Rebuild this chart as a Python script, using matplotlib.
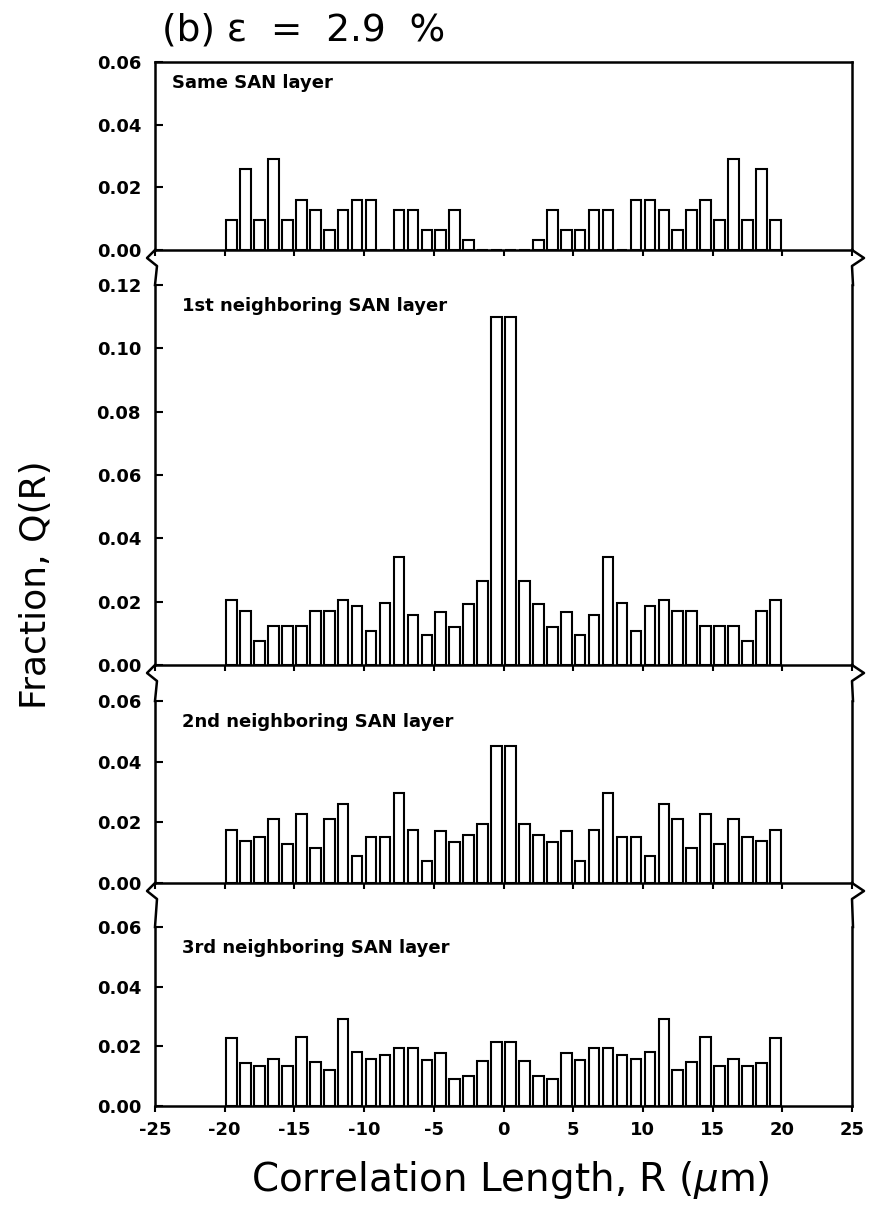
import numpy as np
import matplotlib
matplotlib.use("Agg")
import matplotlib.pyplot as plt
from matplotlib.lines import Line2D

W, H = 874, 1216

# bin centres (um)
R = np.arange(-19.5, 20.0, 1.0)

same_layer = [0.0097, 0.0258, 0.0097, 0.0290, 0.0097, 0.0161, 0.0129, 0.0065, 0.0129, 0.0161,
              0.0161, 0.0, 0.0129, 0.0129, 0.0065, 0.0065, 0.0129, 0.0032, 0.0, 0.0,
              0.0, 0.0, 0.0032, 0.0129, 0.0065, 0.0065, 0.0129, 0.0129, 0.0, 0.0161,
              0.0161, 0.0129, 0.0065, 0.0129, 0.0161, 0.0097, 0.0290, 0.0097, 0.0258, 0.0097]
first_nb = [0.0205, 0.0172, 0.0075, 0.0124, 0.0124, 0.0124, 0.0172, 0.0172, 0.0205, 0.0185,
            0.0108, 0.0195, 0.0340, 0.0157, 0.0094, 0.0168, 0.0121, 0.0193, 0.0264, 0.1100,
            0.1100, 0.0264, 0.0193, 0.0121, 0.0168, 0.0094, 0.0157, 0.0340, 0.0195, 0.0108,
            0.0185, 0.0205, 0.0172, 0.0172, 0.0124, 0.0124, 0.0124, 0.0075, 0.0172, 0.0205]
second_nb = [0.0174, 0.0138, 0.0151, 0.0212, 0.0128, 0.0226, 0.0116, 0.0212, 0.0261, 0.0089,
             0.0151, 0.0151, 0.0298, 0.0174, 0.0074, 0.0172, 0.0136, 0.0158, 0.0196, 0.0452,
             0.0452, 0.0196, 0.0158, 0.0136, 0.0172, 0.0074, 0.0174, 0.0298, 0.0151, 0.0151,
             0.0089, 0.0261, 0.0212, 0.0116, 0.0226, 0.0128, 0.0212, 0.0151, 0.0138, 0.0174]
third_nb = [0.0229, 0.0145, 0.0134, 0.0157, 0.0134, 0.0231, 0.0146, 0.0120, 0.0293, 0.0180,
            0.0157, 0.0170, 0.0193, 0.0193, 0.0155, 0.0177, 0.0091, 0.0101, 0.0152, 0.0214,
            0.0214, 0.0152, 0.0101, 0.0091, 0.0177, 0.0155, 0.0193, 0.0193, 0.0170, 0.0157,
            0.0180, 0.0293, 0.0120, 0.0146, 0.0231, 0.0134, 0.0157, 0.0134, 0.0145, 0.0229]

labels = ["Same SAN layer", "1st neighboring SAN layer",
          "2nd neighboring SAN layer", "3rd neighboring SAN layer"]
series = [same_layer, first_nb, second_nb, third_nb]
ymax = [0.06, 0.12, 0.06, 0.06]
xticks = [-25, -20, -15, -10, -5, 0, 5, 10, 15, 20, 25]

# panel boxes in pixels: (top, bottom)
boxes = [(62, 250), (285, 665), (701, 883), (927, 1106)]
x_left, x_right = 155, 852


def fx(px):
    return px / W


def fy(py):
    return 1 - py / H


fig = plt.figure(figsize=(W / 100, H / 100), dpi=100)

for i, (top, bot) in enumerate(boxes):
    ax = fig.add_axes([fx(x_left), fy(bot), fx(x_right) - fx(x_left), (bot - top) / H])
    ax.bar(R, series[i], width=0.76, facecolor="white", edgecolor="black", linewidth=1.5)
    ax.set_xlim(-25, 25)
    ax.set_ylim(0, ymax[i])
    yt = np.arange(0, ymax[i] + 0.001, 0.02)
    ax.set_yticks(yt)
    ax.set_yticklabels(["%.2f" % v for v in yt], fontsize=13, fontweight="bold")
    ax.set_xticks(xticks)
    ax.tick_params(axis="y", direction="in", length=6, width=1.5, pad=10)
    ax.tick_params(axis="x", direction="out", length=4, width=1.5)
    for s in ax.spines.values():
        s.set_linewidth(1.8)
    if i > 0:
        ax.spines["top"].set_visible(False)
    if i < 3:
        ax.set_xticklabels([])
    else:
        ax.set_xticklabels([str(t) for t in xticks], fontsize=13, fontweight="bold")
        ax.tick_params(axis="x", pad=7)
    ax.text(fx(172 if i == 0 else 182), fy(top + 26), labels[i], transform=fig.transFigure,
            fontsize=13, fontweight="bold", va="baseline")


# break marks between panels
def zig(pts):
    xs = [fx(p[0]) for p in pts]
    ys = [fy(p[1]) for p in pts]
    fig.add_artist(Line2D(xs, ys, color="black", lw=1.8, transform=fig.transFigure))


for k in range(3):
    b = boxes[k][1]
    t = boxes[k + 1][0]
    zig([(x_left, b), (x_left - 8, b + 8), (x_left + 2, b + 16), (x_left, t)])
    zig([(x_right, b), (x_right + 12, b + 8), (x_right, b + 16), (x_right + 1, t)])

fig.text(fx(162), fy(40), "(b) \u03b5  =  2.9  %", fontsize=27, va="baseline")
fig.text(fx(36), fy(585), "Fraction, Q(R)", rotation=90, fontsize=26,
         ha="center", va="center")
fig.text(fx(510), fy(1180), "Correlation Length, R ($\\mu$m)", fontsize=28,
         ha="center", va="center")

fig.savefig("out.png", dpi=100)
